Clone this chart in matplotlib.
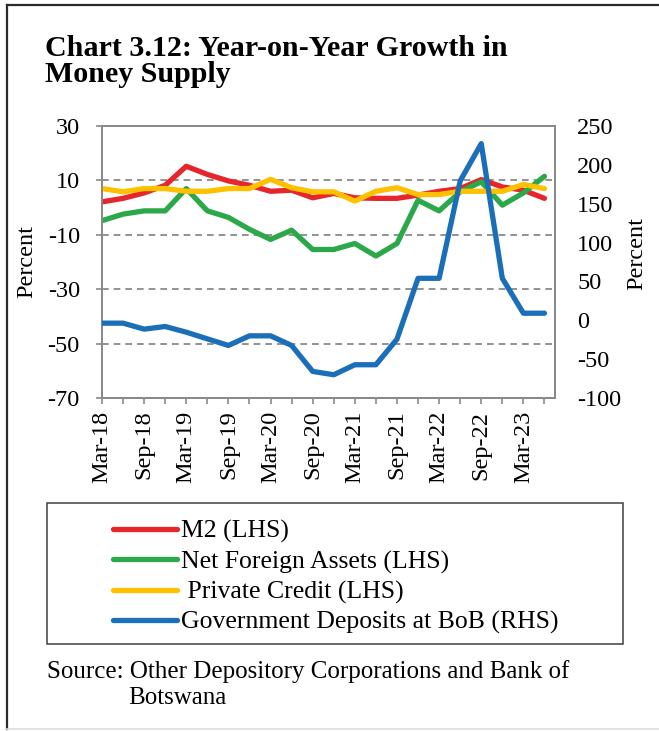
import matplotlib
matplotlib.use("Agg")
import matplotlib.pyplot as plt
from matplotlib.lines import Line2D
from matplotlib.patches import Rectangle

plt.rcParams["font.family"] = ["Liberation Serif", "DejaVu Serif"]
plt.rcParams["axes.unicode_minus"] = False

# Quarterly observations, Mar-18 to Jun-23
quarters = ["Mar-18", "Jun-18", "Sep-18", "Dec-18", "Mar-19", "Jun-19", "Sep-19", "Dec-19",
            "Mar-20", "Jun-20", "Sep-20", "Dec-20", "Mar-21", "Jun-21", "Sep-21", "Dec-21",
            "Mar-22", "Jun-22", "Sep-22", "Dec-22", "Mar-23", "Jun-23"]

m2 = [2.1, 3.4, 5.4, 8.2, 15.2, 12.2, 9.8, 8.2, 6.0, 6.4, 3.6, 5.2,
      3.6, 3.4, 3.4, 4.6, 6.0, 7.0, 10.3, 7.6, 6.4, 3.4]
nfa = [-4.8, -2.4, -1.2, -1.2, 7.0, -1.2, -3.6, -8.0, -11.7, -8.3, -15.4, -15.4,
       -13.2, -17.8, -13.2, 2.7, -1.2, 5.8, 9.5, 0.9, 5.4, 11.5]
private_credit = [7.0, 5.8, 7.0, 7.0, 6.0, 6.0, 7.0, 7.0, 10.4, 7.3, 5.8, 5.8,
                  2.4, 6.0, 7.3, 4.8, 4.8, 6.0, 6.0, 6.0, 8.5, 7.0]
govt_deposits = [-3.7, -3.7, -11.4, -8.0, -15.3, -23.9, -32.4, -20.0, -20.0, -32.4, -65.8, -70.1,
                 -57.2, -57.2, -24.3, 54.0, 54.0, 179.4, 227.3, 54.0, 9.1, 9.1]

series_labels = ["M2 (LHS)", "Net Foreign Assets (LHS)", " Private Credit (LHS)",
                 "Government Deposits at BoB (RHS)"]
series_colors = ["#E6262B", "#2AA84A", "#FFC000", "#1B6FB9"]

left_ticks = [-70, -50, -30, -10, 10, 30]
right_ticks = [-100, -50, 0, 50, 100, 150, 200, 250]

W, H = 659, 731
fig = plt.figure(figsize=(W / 100, H / 100), dpi=100)


def fx(px):
    return px / W


def fy(py):
    return 1 - py / H


# Plot area
ax_l, ax_r, ax_t, ax_b = 102, 555, 126, 398
ax = fig.add_axes([fx(ax_l), fy(ax_b), fx(ax_r - ax_l), (ax_b - ax_t) / H])
ax2 = ax.twinx()

spine_c = "#898989"
grid_c = "#7F7F7F"
tick_fs = 17.5

x = list(range(len(quarters)))
lw = 3.8
handles = []
for vals, col in zip([m2, nfa, private_credit], series_colors[:3]):
    h, = ax.plot(x, vals, color=col, lw=lw, solid_capstyle="round",
                 solid_joinstyle="round", zorder=3)
    handles.append(h)
h, = ax2.plot(x, govt_deposits, color=series_colors[3], lw=lw, solid_capstyle="round",
              solid_joinstyle="round", zorder=3)
handles.append(h)

ax.set_xlim(0, len(quarters) - 0.5)
ax.set_ylim(left_ticks[0], left_ticks[-1])
ax2.set_ylim(right_ticks[0], right_ticks[-1])

ax.set_yticks(left_ticks)
ax.set_yticklabels([str(v) for v in left_ticks], fontsize=tick_fs)
ax2.set_yticks(right_ticks)
ax2.set_yticklabels([str(v) for v in right_ticks], fontsize=tick_fs)

ax.set_xticks(x[::2])
ax.set_xticklabels(quarters[::2], rotation=90, fontsize=tick_fs)
ax.set_xticks(x[1::2], minor=True)

ax.tick_params(axis="x", which="both", direction="out", length=4, width=1.2,
               color=spine_c, pad=5)
ax.tick_params(axis="y", direction="out", length=4.5, width=1.2, color=spine_c, pad=11.5)
ax2.tick_params(axis="y", length=0, pad=16)

for a in (ax, ax2):
    for s in a.spines.values():
        s.set_color(spine_c)
        s.set_linewidth(1.3)

for v in left_ticks[1:-1]:
    ax.axhline(v, color=grid_c, lw=1.2, ls=(0, (4, 3)), zorder=1)

# Axis titles
fig.text(fx(27), fy(262), "Percent", rotation=90, ha="center", va="center", fontsize=tick_fs)
fig.text(fx(637), fy(253), "Percent", rotation=90, ha="center", va="center", fontsize=tick_fs)

# Title
fig.text(fx(45), fy(56), "Chart 3.12: Year-on-Year Growth in", fontsize=21.6,
         fontweight="bold", ha="left", va="baseline")
fig.text(fx(45), fy(82), "Money Supply", fontsize=21.6,
         fontweight="bold", ha="left", va="baseline")

# Legend with its own box
fig.patches.append(Rectangle((fx(47), fy(644)), fx(623 - 47), (644 - 503) / H,
                             transform=fig.transFigure, fill=False,
                             edgecolor="#404040", lw=1.1))
leg_fs = 18.5
fig.legend(handles, series_labels, loc="upper left",
           bbox_to_anchor=(fx(113), fy(520)), frameon=False, fontsize=leg_fs,
           handlelength=2.5, handletextpad=0.16, labelspacing=0.27,
           borderpad=0, borderaxespad=0)

# Source note
fig.text(fx(47), fy(672), "Source: Other Depository Corporations and Bank of",
         fontsize=18, ha="left", va="center")
fig.text(fx(128), fy(698), "Botswana", fontsize=18, ha="left", va="center")

# Outer frame
fig.lines.append(Line2D([fx(7), 1], [fy(5), fy(5)], transform=fig.transFigure,
                        color="#2A2A2A", lw=1.6))
fig.lines.append(Line2D([fx(7), fx(7)], [fy(5), fy(729)], transform=fig.transFigure,
                        color="#2A2A2A", lw=1.6))
fig.lines.append(Line2D([fx(7), 1], [fy(729), fy(729)], transform=fig.transFigure,
                        color="#DDDDDD", lw=1.2))

fig.savefig("out.png", dpi=100)
